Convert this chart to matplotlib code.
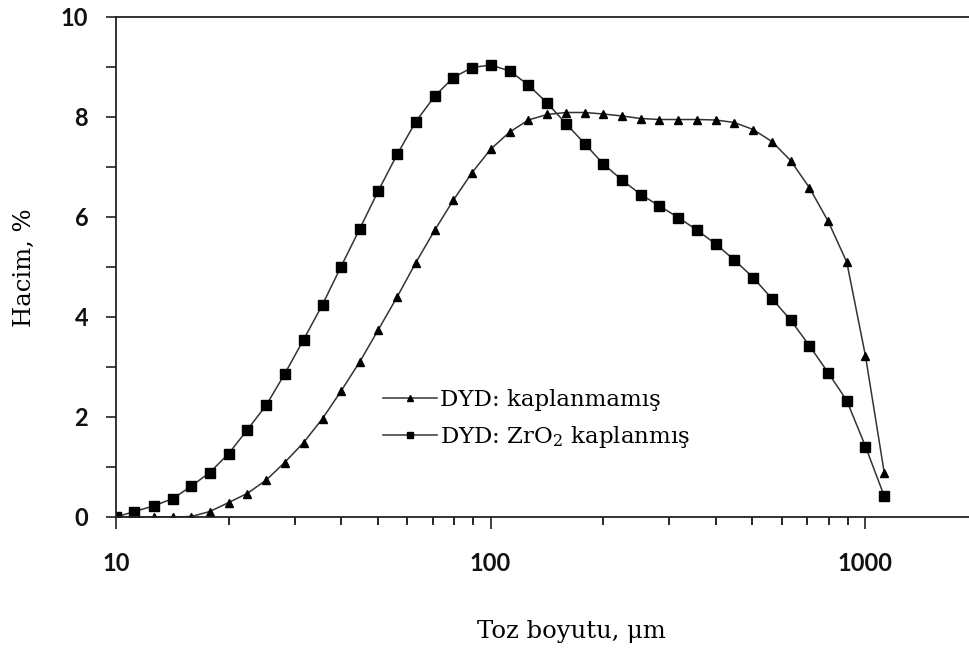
import matplotlib
matplotlib.use("Agg")
import matplotlib.pyplot as plt
from matplotlib.ticker import FixedLocator, NullFormatter, FixedFormatter

# particle size classes (um)
sizes = [10.0, 11.2, 12.6, 14.2, 15.9, 17.8, 20.0, 22.4, 25.2, 28.2,
         31.7, 35.6, 39.9, 44.8, 50.2, 56.4, 63.2, 71.0, 79.6, 89.3,
         100.2, 112.5, 126.2, 141.6, 158.9, 178.3, 200.0, 224.4, 251.8, 282.5,
         317.0, 355.6, 399.1, 447.7, 502.4, 563.7, 632.5, 709.6, 796.2, 893.4,
         1002.4, 1124.7]

# volume % - uncoated powder
uncoated = [0.0, 0.0, 0.0, 0.0, 0.01, 0.11, 0.29, 0.47, 0.74, 1.09,
            1.49, 1.97, 2.52, 3.11, 3.75, 4.41, 5.09, 5.74, 6.34, 6.89,
            7.36, 7.70, 7.94, 8.05, 8.09, 8.09, 8.06, 8.02, 7.97, 7.95,
            7.95, 7.95, 7.94, 7.89, 7.75, 7.51, 7.13, 6.59, 5.92, 5.10,
            3.22, 0.89]

# volume % - ZrO2 coated powder
coated = [0.0, 0.11, 0.22, 0.37, 0.62, 0.89, 1.27, 1.74, 2.24, 2.86,
          3.55, 4.25, 5.01, 5.77, 6.53, 7.26, 7.91, 8.42, 8.79, 8.99,
          9.04, 8.92, 8.64, 8.28, 7.87, 7.47, 7.06, 6.74, 6.45, 6.22,
          5.99, 5.74, 5.46, 5.14, 4.79, 4.37, 3.94, 3.43, 2.89, 2.33,
          1.41, 0.42]

labels = ["DYD: kaplanmamış", "DYD: ZrO$_2$ kaplanmış"]
xticks = [10, 100, 1000]
xtick_labels = ["10", "100", "1000"]

plt.rcParams['mathtext.fontset'] = 'dejavuserif'

fig = plt.figure(figsize=(9.7, 6.5), dpi=100)
ax = fig.add_axes([116 / 970, 1 - 517 / 650, 1 - 116 / 970, 500 / 650])

line_col = '#333333'
ax.plot(sizes, uncoated, color=line_col, lw=1.1, marker='^', ms=6,
        mfc='black', mec='black', label=labels[0])
ax.plot(sizes, coated, color=line_col, lw=1.1, marker='s', ms=7,
        mfc='black', mec='black', label=labels[1])

ax.set_xscale('log')
ax.set_xlim(10, 1906)
ax.set_ylim(0, 10)

ax.xaxis.set_major_locator(FixedLocator(xticks))
ax.xaxis.set_major_formatter(FixedFormatter(xtick_labels))
minor = [m * d for d in (10, 100, 1000) for m in range(2, 10) if m * d < 1906]
ax.xaxis.set_minor_locator(FixedLocator(minor))
ax.xaxis.set_minor_formatter(NullFormatter())

ax.set_yticks([0, 2, 4, 6, 8, 10])
ax.set_yticks([1, 3, 5, 7, 9], minor=True)

ax.spines['right'].set_visible(False)
for s in ('left', 'bottom', 'top'):
    ax.spines[s].set_linewidth(1.3)
    ax.spines[s].set_color('#222222')

ax.tick_params(axis='x', which='major', direction='out', length=8.5, width=1.2,
               pad=17, colors='#222222')
ax.tick_params(axis='x', which='minor', direction='out', length=6, width=1.2)
ax.tick_params(axis='y', which='both', direction='out', length=7, width=1.2,
               pad=13, colors='#222222')
for t in ax.get_xticklabels() + ax.get_yticklabels():
    t.set_fontfamily('Lato')
    t.set_fontweight('bold')
    t.set_fontsize(17)
    t.set_color('#111111')

fig.text(571 / 970, 1 - 638 / 650, "Toz boyutu, μm", family='DejaVu Serif',
         fontsize=17.5, ha='center', va='baseline')
fig.text(24 / 970, 1 - 268 / 650, "Hacim, %", family='DejaVu Serif',
         fontsize=17.5, rotation=90, ha='center', va='center')

ax.legend(loc='upper left', bbox_to_anchor=(383 / 970, 1 - 389 / 650),
          bbox_transform=fig.transFigure, frameon=False,
          prop={'family': 'DejaVu Serif', 'size': 16.5},
          handlelength=2.35, handletextpad=0.12, labelspacing=0.55,
          markerscale=0.7, borderpad=0, borderaxespad=0)

fig.savefig('out.png', dpi=100)
